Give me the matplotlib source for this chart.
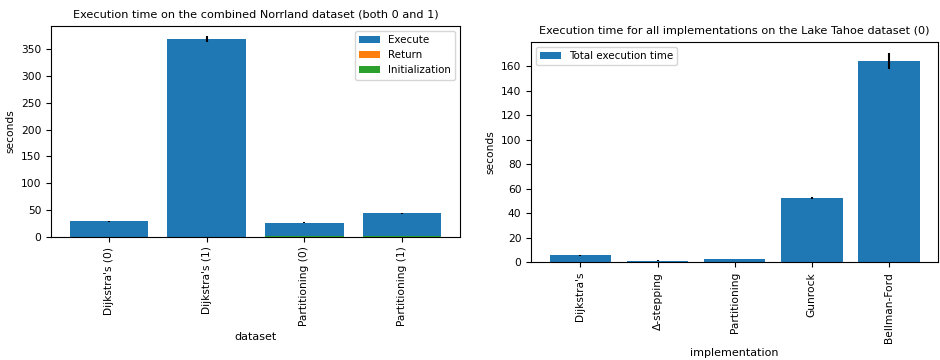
import matplotlib
matplotlib.use("Agg")
import matplotlib.pyplot as plt
import numpy as np

plt.rcParams['font.size'] = 7.7

# left chart: combined Norrland dataset
datasets = ["Dijkstra's (0)", "Dijkstra's (1)", "Partitioning (0)", "Partitioning (1)"]
execute = [29.2, 368.5, 24.5, 42.5]
execute_err = [1, 6, 1, 1]
ret = [0.05, 0.05, 0.05, 0.05]
init = [0.2, 0.3, 1.5, 1.6]

# right chart: Lake Tahoe dataset
implementations = ["Dijkstra's", "Δ-stepping", "Partitioning", "Gunrock", "Bellman-Ford"]
total = [5.6, 1.1, 2.4, 52.5, 164.5]
total_err = [0.3, 0.2, 0.2, 0.6, 6.7]

fig = plt.figure(figsize=(9.4, 3.6), dpi=100)
ax1 = fig.add_axes([0.0543, 0.342, 0.435, 0.586])
ax2 = fig.add_axes([0.565, 0.272, 0.433, 0.611])

x = np.arange(len(datasets))
ax1.bar(x, execute, bottom=np.array(ret) + np.array(init), yerr=execute_err, label='Execute', color='C0')
ax1.bar(x, ret, bottom=init, label='Return', color='C1')
ax1.bar(x, init, label='Initialization', color='C2')
ax1.set_xticks(x)
ax1.set_xticklabels(datasets, rotation=90)
ax1.set_title('Execution time on the combined Norrland dataset (both 0 and 1)', fontsize=8.1)
ax1.set_ylabel('seconds')
ax1.set_xlabel('dataset', fontsize=8)
ax1.legend(loc='upper right', fontsize=7.4)

x2 = np.arange(len(implementations))
ax2.bar(x2, total, yerr=total_err, label='Total execution time', color='C0')
ax2.set_xticks(x2)
ax2.set_xticklabels(implementations, rotation=90)
ax2.set_title('Execution time for all implementations on the Lake Tahoe dataset (0)', fontsize=8.1)
ax2.set_ylabel('seconds')
ax2.set_xlabel('implementation', fontsize=8)
ax2.legend(loc='upper left', fontsize=7.4)

plt.savefig('out.png', dpi=100)
